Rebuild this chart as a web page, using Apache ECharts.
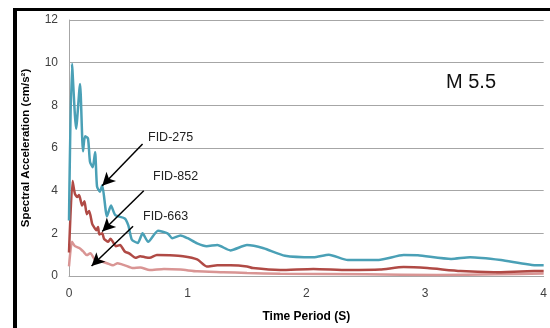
<!DOCTYPE html>
<html>
<head>
<meta charset="utf-8">
<script src="https://cdn.jsdelivr.net/npm/echarts@6/dist/echarts.min.js"></script>
<style>
  html, body { margin: 0; padding: 0; background: #fff; }
  #chart { width: 550px; height: 328px; }
</style>
</head>
<body>
<div id="chart"></div>
<script>
// Response spectra, M 5.5 event: spectral acceleration vs. time period
const yTicks = [0, 2, 4, 6, 8, 10, 12];
const xTicks = [0, 1, 2, 3, 4];

const fid275Period = [0, 0.025, 0.06, 0.093, 0.118, 0.135, 0.16, 0.177, 0.2, 0.22, 0.236, 0.26, 0.28, 0.32, 0.354, 0.39, 0.47, 0.5, 0.53, 0.58, 0.62, 0.667, 0.75, 0.83, 0.87, 0.94, 1.0, 1.08, 1.16, 1.25, 1.36, 1.5, 1.64, 1.82, 2.06, 2.19, 2.35, 2.61, 2.82, 2.94, 3.22, 3.38, 3.64, 3.95, 4.0];
const fid275Accel  = [2.6, 9.95, 6.9, 9.0, 5.85, 6.55, 6.45, 5.35, 5.1, 5.8, 4.2, 3.95, 4.25, 2.8, 3.3, 2.85, 2.7, 2.37, 1.7, 1.55, 2.0, 1.6, 2.12, 2.0, 1.77, 1.9, 1.77, 1.53, 1.4, 1.45, 1.2, 1.45, 1.3, 0.95, 0.88, 1.0, 0.75, 0.75, 0.98, 0.97, 0.8, 0.88, 0.75, 0.5, 0.5];

const fid852Period = [0, 0.03, 0.05, 0.07, 0.085, 0.11, 0.13, 0.15, 0.17, 0.195, 0.21, 0.23, 0.245, 0.255, 0.28, 0.295, 0.33, 0.35, 0.37, 0.395, 0.43, 0.47, 0.51, 0.56, 0.6, 0.64, 0.68, 0.74, 0.85, 0.96, 1.08, 1.16, 1.25, 1.36, 1.5, 1.55, 1.78, 2.06, 2.35, 2.62, 2.82, 3.02, 3.3, 3.58, 3.92, 4.0];
const fid852Accel  = [1.1, 4.45, 3.85, 3.7, 3.8, 3.3, 3.5, 2.9, 3.05, 2.45, 2.3, 2.15, 2.3, 1.95, 2.0, 1.75, 1.6, 1.75, 1.6, 1.4, 1.45, 1.15, 1.05, 0.85, 0.93, 0.88, 0.85, 0.98, 0.97, 0.93, 0.78, 0.45, 0.5, 0.5, 0.45, 0.37, 0.28, 0.33, 0.28, 0.3, 0.42, 0.37, 0.23, 0.18, 0.23, 0.23];

const fid663Period = [0, 0.025, 0.05, 0.09, 0.12, 0.15, 0.18, 0.22, 0.26, 0.32, 0.37, 0.41, 0.47, 0.54, 0.6, 0.68, 0.8, 0.94, 1.08, 1.3, 1.5, 1.78, 2.5, 3.1, 3.6, 4.0];
const fid663Accel  = [0.45, 1.6, 1.4, 1.3, 1.15, 0.98, 1.07, 0.75, 0.7, 0.6, 0.5, 0.6, 0.5, 0.37, 0.4, 0.28, 0.33, 0.3, 0.22, 0.18, 0.14, 0.1, 0.08, 0.05, 0.08, 0.12];

// callout arrows: [fromPeriod, fromAccel, toPeriod, toAccel]
const arrow275 = [0.62, 6.19, 0.28, 4.23];
const arrow852 = [0.63, 4.0, 0.28, 2.09];
const arrow663 = [0.54, 2.33, 0.19, 0.47];

const pair = (xs, ys) => xs.map((x, i) => [x, ys[i]]);

const arrowLine = (a) => [{ coord: [a[0], a[1]] }, { coord: [a[2], a[3]] }];

const chart = echarts.init(document.getElementById('chart'), null, { renderer: 'canvas' });

const font = 'Liberation Sans, Arial, sans-serif';

chart.setOption({
  animation: false,
  backgroundColor: '#ffffff',
  grid: { left: 69, right: 5, top: 20, bottom: 50 },
  xAxis: {
    type: 'value',
    min: xTicks[0],
    max: xTicks[xTicks.length - 1],
    interval: 1,
    name: 'Time Period (S)',
    nameLocation: 'middle',
    nameGap: 35,
    nameTextStyle: { fontFamily: font, fontWeight: 'bold', fontSize: 12, color: '#000' },
    axisLine: { lineStyle: { color: '#a6a6a6', width: 1 } },
    axisTick: { show: false },
    splitLine: { show: false },
    axisLabel: { fontFamily: font, fontSize: 12, color: '#404040', margin: 12 }
  },
  yAxis: {
    type: 'value',
    min: yTicks[0],
    max: yTicks[yTicks.length - 1],
    interval: 2,
    name: 'Spectral Acceleration (cm/s²)',
    nameLocation: 'middle',
    nameGap: 37,
    nameTextStyle: { fontFamily: font, fontWeight: 'bold', fontSize: 11.5, color: '#000' },
    axisLine: { show: true, lineStyle: { color: '#a6a6a6', width: 1 } },
    axisTick: { show: false },
    splitLine: { lineStyle: { color: '#a6a6a6', width: 1 } },
    axisLabel: { fontFamily: font, fontSize: 12, color: '#404040', margin: 11 }
  },
  series: [
    {
      name: 'FID-663', type: 'line', data: pair(fid663Period, fid663Accel),
      showSymbol: false, smooth: 0.2,
      lineStyle: { color: '#d99594', width: 2.5 }, z: 2
    },
    {
      name: 'FID-852', type: 'line', data: pair(fid852Period, fid852Accel),
      showSymbol: false, smooth: 0.2,
      lineStyle: { color: '#b04a45', width: 2.5 }, z: 3
    },
    {
      name: 'FID-275', type: 'line', data: pair(fid275Period, fid275Accel),
      showSymbol: false, smooth: 0.2,
      lineStyle: { color: '#4aa0b6', width: 2.5 }, z: 4,
      markLine: {
        silent: true,
        symbol: ['none', 'arrow'],
        symbolSize: [10, 13],
        label: { show: false },
        lineStyle: { color: '#000', width: 1.5, type: 'solid' },
        data: [arrowLine(arrow275), arrowLine(arrow852), arrowLine(arrow663)],
        z: 10
      }
    }
  ],
  graphic: [
    // frame bars on the left and top
    { type: 'rect', shape: { x: 13, y: 8, width: 4, height: 320 }, style: { fill: '#000' } },
    { type: 'rect', shape: { x: 13, y: 8, width: 537, height: 3 }, style: { fill: '#000' } },
    { type: 'text', left: 148, top: 131, style: { text: 'FID-275', font: '12.5px ' + font, fill: '#222' } },
    { type: 'text', left: 153, top: 170, style: { text: 'FID-852', font: '12.5px ' + font, fill: '#222' } },
    { type: 'text', left: 143, top: 210, style: { text: 'FID-663', font: '12.5px ' + font, fill: '#222' } },
    { type: 'text', left: 446, top: 72, style: { text: 'M 5.5', font: '20px ' + font, fill: '#111' } }
  ]
});
</script>
</body>
</html>
